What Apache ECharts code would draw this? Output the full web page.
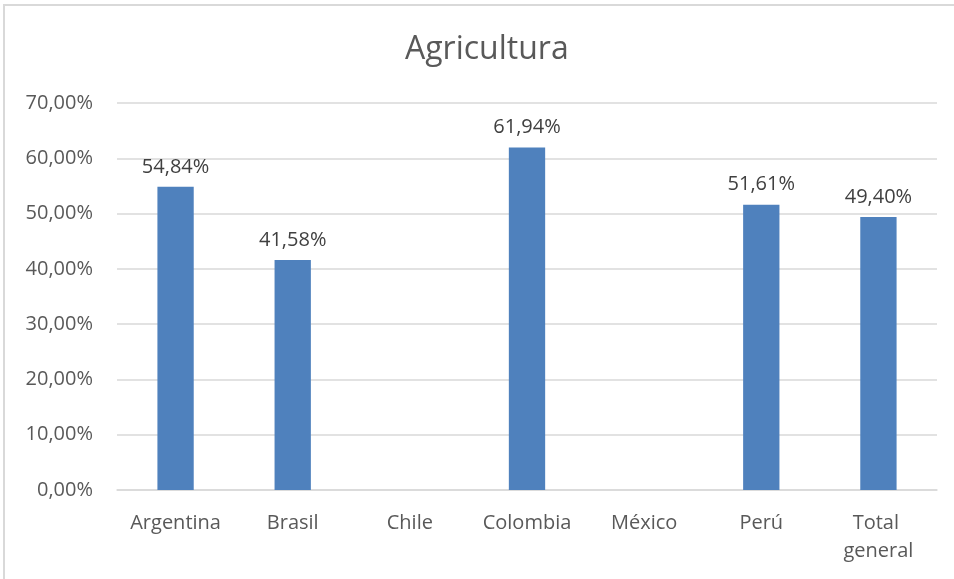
<!DOCTYPE html>
<html>
<head>
<meta charset="utf-8">
<script src="https://cdn.jsdelivr.net/npm/echarts@6/dist/echarts.min.js"></script>
<style>
  html, body { margin: 0; padding: 0; background: #fff; }
  #chart { width: 954px; height: 579px; }
  #frame { position: absolute; left: 3px; top: 4px; width: 960px; height: 600px; border: 2px solid #d9d9d9; box-sizing: border-box; pointer-events: none; }
</style>
</head>
<body>
<div id="chart"></div>
<div id="frame"></div>
<script>
const titleText = 'Agricultura';
const categories = ['Argentina', 'Brasil', 'Chile', 'Colombia', 'México', 'Perú', 'Total general'];
const shares = [54.84, 41.58, null, 61.94, null, 51.61, 49.40];
const yMin = 0, yMax = 70, yStep = 10;

const fontFamily = '"Open Sans", "Liberation Sans", sans-serif';
const pct = v => v.toFixed(2).replace('.', ',') + '%';

const chart = echarts.init(document.getElementById('chart'), null, { renderer: 'canvas' });
chart.setOption({
  animation: false,
  backgroundColor: '#ffffff',
  title: {
    text: titleText,
    left: 400,
    top: 29,
    textStyle: { fontFamily, fontSize: 32, fontWeight: 'normal', color: '#595959' }
  },
  grid: { left: 117, right: 17, top: 103, bottom: 89 },
  xAxis: {
    type: 'category',
    data: categories,
    axisLine: { show: true, lineStyle: { color: '#d9d9d9', width: 1.5 } },
    axisTick: { show: false },
    axisLabel: {
      fontFamily, fontSize: 20, color: '#595959', margin: 19,
      lineHeight: 28, width: 105, overflow: 'break', interval: 0
    }
  },
  yAxis: {
    type: 'value',
    min: yMin, max: yMax, interval: yStep,
    axisLine: { show: false },
    axisTick: { show: false },
    splitLine: { lineStyle: { color: '#d9d9d9', width: 1.5 } },
    axisLabel: { fontFamily, fontSize: 20, color: '#595959', margin: 24, formatter: v => pct(v) }
  },
  series: [{
    type: 'bar',
    data: shares,
    barWidth: '31%',
    itemStyle: { color: '#4f81bd' },
    label: {
      show: true, position: 'top', distance: 10,
      fontFamily, fontSize: 20, color: '#404040',
      formatter: p => p.value == null ? '' : pct(p.value)
    }
  }]
});
</script>
</body>
</html>
